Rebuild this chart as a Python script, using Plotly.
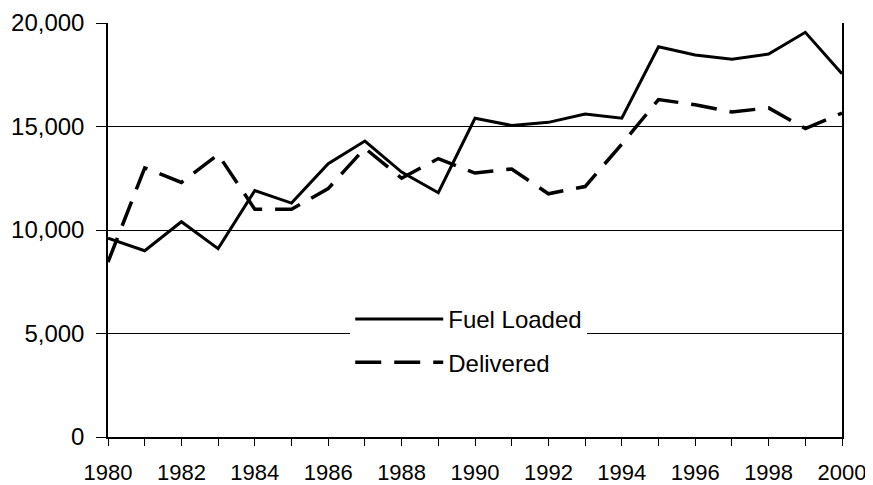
import plotly.graph_objects as go

years = list(range(1980, 2001))
fuel_loaded = [9600, 9000, 10400, 9100, 11900, 11300, 13200, 14300, 12800, 11800,
               15400, 15050, 15200, 15600, 15400, 18850, 18450, 18250, 18500, 19550, 17550]
delivered = [8450, 13000, 12300, 13650, 11000, 11000, 12000, 13950, 12500, 13450,
             12750, 12950, 11750, 12100, 14150, 16300, 16050, 15700, 15900, 14900, 15650]
y_ticks = [0, 5000, 10000, 15000, 20000]
x_ticks = list(range(1980, 2001, 2))

font_family = "Liberation Sans, Arial, sans-serif"

fig = go.Figure()
fig.add_trace(go.Scatter(x=years, y=fuel_loaded, mode="lines", name="Fuel Loaded",
                         legendgroup="a",
                         line=dict(color="black", width=3)))
fig.add_trace(go.Scatter(x=years, y=delivered, mode="lines", name="Delivered",
                         legendgroup="b",
                         line=dict(color="black", width=3.5, dash="26px,13px")))

# page has an 8px body margin, so the figure is sized/offset to compensate
fig.update_layout(
    width=865, height=477,
    margin=dict(l=100, r=31, t=15, b=48),
    paper_bgcolor="white", plot_bgcolor="white",
    font=dict(family=font_family, size=24, color="black"),
    showlegend=True,
    legend=dict(x=0.33, y=0.232, xanchor="left", yanchor="middle",
                bgcolor="white", borderwidth=0, traceorder="grouped",
                font=dict(family=font_family, size=24, color="black"),
                tracegroupgap=9, itemwidth=88),
)
fig.update_xaxes(range=[1980, 2000], tickvals=x_ticks, ticktext=[str(t) for t in x_ticks],
                 tickfont=dict(size=22), automargin=False,
                 showgrid=False, zeroline=False,
                 showline=True, linecolor="black", linewidth=1.5,
                 ticks="outside", ticklen=7, tickwidth=1.3, tickcolor="black",
                 ticklabelstandoff=8,
                 minor=dict(dtick=1, ticks="outside", ticklen=7, tickwidth=1.3, tickcolor="black"))
fig.update_yaxes(range=[0, 20000], tickvals=y_ticks, tickformat=",",
                 tickfont=dict(size=24), automargin=False,
                 showgrid=True, gridcolor="black", gridwidth=1,
                 zeroline=False, showline=True, linecolor="black", linewidth=1.5, mirror=True,
                 ticks="outside", ticklen=10, tickwidth=1.3, tickcolor="black",
                 ticklabelstandoff=7)

fig.write_html("out.html")
